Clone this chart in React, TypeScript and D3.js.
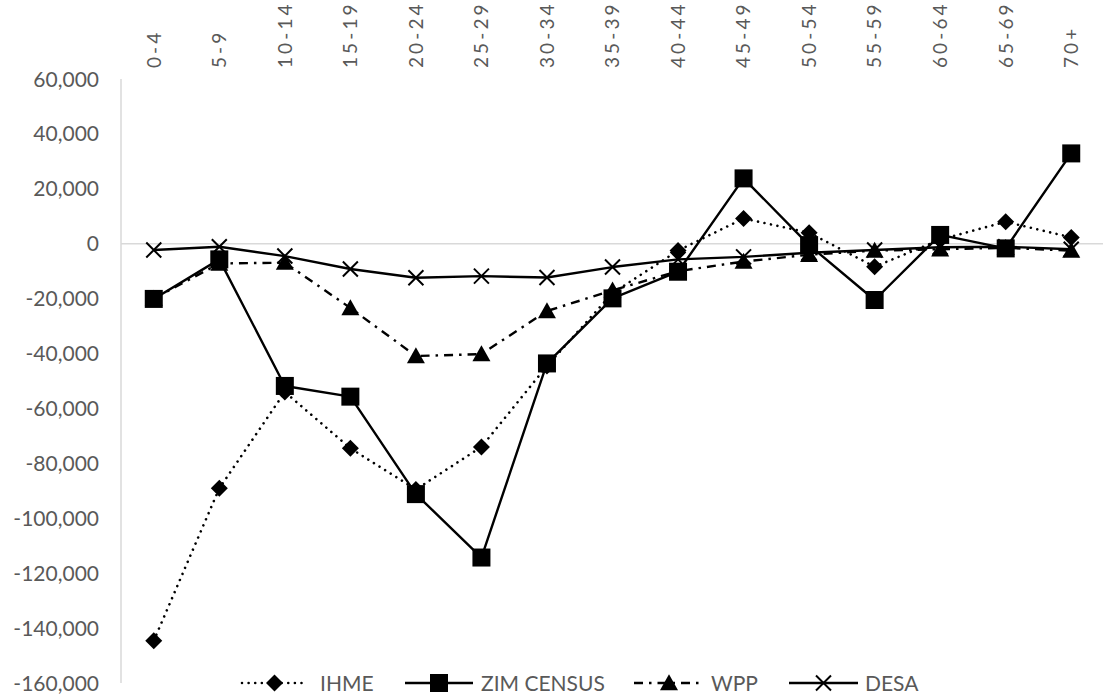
import React from "react";
import * as d3 from "d3";

const categories = ["0-4","5-9","10-14","15-19","20-24","25-29","30-34","35-39","40-44","45-49","50-54","55-59","60-64","65-69","70+"];
const ihme = [-144600, -89100, -54000, -74500, -89500, -74000, -44500, -18000, -2500, 9200, 4000, -8400, 1500, 8000, 2300];
const zimCensus = [-20100, -5700, -51800, -55700, -91200, -114300, -43600, -19900, -10200, 23800, -500, -20500, 3200, -1700, 32900];
const wpp = [-20000, -7200, -6900, -23400, -40900, -40200, -24500, -17000, -10000, -6500, -4000, -2500, -2000, -1500, -2500];
const desa = [-2300, -1100, -4500, -9200, -12400, -11800, -12300, -8500, -5700, -4800, -3300, -2300, -1300, -1100, -2000];
const yTicks = [60000, 40000, 20000, 0, -20000, -40000, -60000, -80000, -100000, -120000, -140000, -160000];
const seriesNames = ["IHME", "ZIM CENSUS", "WPP", "DESA"];

const W = 1103, H = 697;
const FONT = "Lato, 'Noto Sans', sans-serif";
const GRAY = "#595959";
const LINE_GRAY = "#d9d9d9";

const x = d3.scaleBand<string>().domain(categories).range([121, 1104]).padding(0);
const y = d3.scaleLinear().domain([-160000, 60000]).range([683, 79]);
const fmt = d3.formatLocale({ decimal: ".", thousands: ",", grouping: [3], currency: ["", ""], minus: "-" }).format(",");

type Style = { dash: string; cap: "round" | "butt"; width: number; marker: string };
const styles: Style[] = [
  { dash: "0.01 6.6", cap: "round", width: 2.6, marker: "diamond" },
  { dash: "none", cap: "butt", width: 2.4, marker: "square" },
  { dash: "9 6 2.5 6", cap: "butt", width: 2.4, marker: "triangle" },
  { dash: "none", cap: "butt", width: 2.4, marker: "x" },
];

function Marker({ kind, cx, cy }: { kind: string; cx: number; cy: number }) {
  if (kind === "diamond") {
    const r = 8.5;
    return <path d={`M${cx},${cy - r}L${cx + r},${cy}L${cx},${cy + r}L${cx - r},${cy}Z`} fill="#000" />;
  }
  if (kind === "square") {
    const r = 9;
    return <rect x={cx - r} y={cy - r} width={2 * r} height={2 * r} fill="#000" />;
  }
  if (kind === "triangle") {
    const w = 9, h = 16;
    return <path d={`M${cx},${cy - h * 0.55}L${cx + w},${cy + h * 0.45}L${cx - w},${cy + h * 0.45}Z`} fill="#000" />;
  }
  const r = 7.5;
  return (
    <path d={`M${cx - r},${cy - r}L${cx + r},${cy + r}M${cx - r},${cy + r}L${cx + r},${cy - r}`} stroke="#000" strokeWidth={2} fill="none" />
  );
}

export default function App() {
  const data = [ihme, zimCensus, wpp, desa];
  const line = d3.line<number>().x((_, i) => (x(categories[i]) as number) + x.bandwidth() / 2).y((v) => y(v));
  const cx = (i: number) => (x(categories[i]) as number) + x.bandwidth() / 2;

  const legendItems = [
    { lx0: 242, lx1: 307, tx: 320 },
    { lx0: 405, lx1: 473, tx: 481 },
    { lx0: 634, lx1: 704, tx: 711 },
    { lx0: 789, lx1: 858, tx: 865 },
  ];
  const ly = 683;

  return (
    <svg width={W} height={H} style={{ position: "absolute", left: 0, top: 0, display: "block", background: "#fff" }} fontFamily={FONT}>
      <rect x={0} y={0} width={W} height={H} fill="#fff" />
      <line x1={121} x2={1103} y1={y(0)} y2={y(0)} stroke={LINE_GRAY} strokeWidth={1.5} />
      <line x1={121} x2={121} y1={y(60000)} y2={y(-160000)} stroke={LINE_GRAY} strokeWidth={1.5} />
      {yTicks.map((t) => (
        <text key={t} x={99} y={y(t)} dy="0.36em" textAnchor="end" fontSize={21} fill={GRAY}>
          {fmt(t)}
        </text>
      ))}
      {categories.map((c, i) => (
        <text
          key={c}
          transform={`translate(${cx(i)},68) rotate(-90)`}
          dy="0.36em"
          textAnchor="start"
          fontSize={19}
          letterSpacing={3.1}
          fill={GRAY}
        >
          {c}
        </text>
      ))}
      {data.map((vals, s) => (
        <g key={seriesNames[s]}>
          <path
            d={line(vals) as string}
            fill="none"
            stroke="#000"
            strokeWidth={styles[s].width}
            strokeDasharray={styles[s].dash}
            strokeLinecap={styles[s].cap}
            strokeLinejoin="round"
          />
          {vals.map((v, i) => (
            <Marker key={i} kind={styles[s].marker} cx={cx(i)} cy={y(v)} />
          ))}
        </g>
      ))}
      {legendItems.map((it, s) => (
        <g key={seriesNames[s]}>
          <line
            x1={it.lx0}
            x2={it.lx1}
            y1={ly}
            y2={ly}
            stroke="#000"
            strokeWidth={styles[s].width}
            strokeDasharray={styles[s].dash}
            strokeLinecap={styles[s].cap}
          />
          <Marker kind={styles[s].marker} cx={(it.lx0 + it.lx1) / 2} cy={ly} />
          <text x={it.tx} y={ly} dy="0.36em" fontSize={21} fill={GRAY}>
            {seriesNames[s]}
          </text>
        </g>
      ))}
    </svg>
  );
}
